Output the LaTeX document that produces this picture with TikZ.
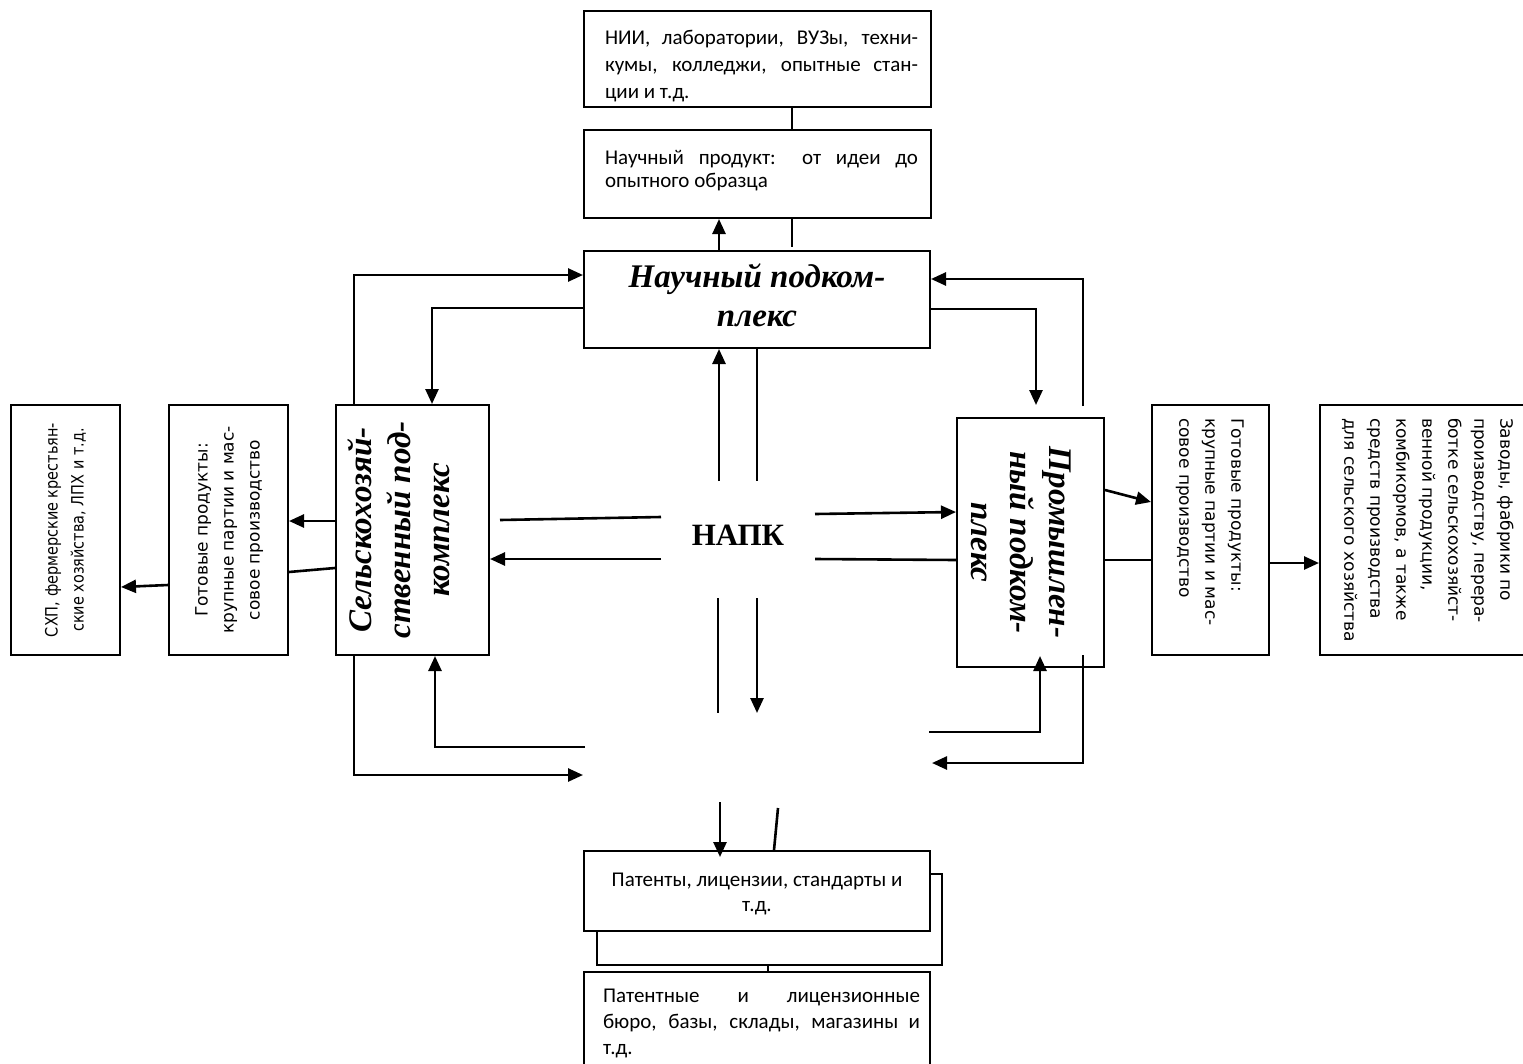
\documentclass[tikz,border=0pt]{standalone}
\usepackage{fontspec}
\usepackage{graphicx}
\setmainfont{Carlito}
\newfontfamily\dvfont{DejaVu Sans}
\newfontfamily\tnrfont{Liberation Serif}
\usetikzlibrary{arrows.meta}
\newcommand\bigbi{\tnrfont\bfseries\itshape\fontsize{33pt}{39pt}\selectfont}
\newcommand\smallsans{\dvfont\fontsize{17pt}{26pt}\selectfont}
\newcommand\topbox[6]{\parbox[c][#2][t]{#1}{\vspace*{#4}\hspace*{#3}\parbox[t]{#5}{#6}\par}}
\tikzset{
  bx/.style={draw, line width=2pt, inner sep=0pt, rectangle},
  ln/.style={line width=2.6pt},
  thinln/.style={line width=2pt},
  arr/.style={line width=2.6pt, -{Triangle[length=15pt,width=13pt]}},
}
\begin{document}
\begin{tikzpicture}[x=1pt,y=-1pt]
\useasboundingbox (0,0) rectangle (1523,1063);

% top boxes
\node[bx, minimum width=347pt, minimum height=96pt] (nii) at (757.5,59)
 {\topbox{347pt}{96pt}{21pt}{19pt}{313pt}{\fontsize{21pt}{27pt}\selectfont
  \makebox[313pt][s]{НИИ, лаборатории, ВУЗы, техни-}\\
  \makebox[313pt][s]{кумы, колледжи, опытные стан-}\\
  ции и т.д.}};
\node[bx, minimum width=347pt, minimum height=88pt] (prod) at (757.5,174)
 {\topbox{347pt}{88pt}{21pt}{20pt}{313pt}{\fontsize{21pt}{23pt}\selectfont
  \makebox[313pt][s]{Научный продукт: от идеи до}\\
  опытного образца}};
\node[bx, minimum width=346pt, minimum height=97pt] (sci) at (757,299.5)
 {\raisebox{-5pt}{\bigbi\begin{tabular}{@{}c@{}}Научный подком-\\плекс\end{tabular}}};

% left boxes
\node[bx, minimum width=153pt, minimum height=250pt] (agr) at (412.5,530)
 {\hspace*{-20pt}\rotatebox{90}{\bigbi\begin{tabular}{@{}c@{}}Сельскохозяй-\\ственный под-\\комплекс\end{tabular}}};
\node[bx, minimum width=119pt, minimum height=250pt] (gotL) at (228.5,530)
 {\rotatebox{90}{\smallsans\begin{tabular}{@{}c@{}}Готовые продукты:\\крупные партии и мас-\\совое производство\end{tabular}}};
\node[bx, minimum width=109pt, minimum height=250pt] (shp) at (65.5,530)
 {\rotatebox{90}{\scalebox{0.85}[1]{\smallsans\begin{tabular}{@{}c@{}}СХП, фермерские крестьян-\\ские хозяйства, ЛПХ и т.д.\end{tabular}}}};

% right boxes
\node[bx, minimum width=147pt, minimum height=249pt] (ind) at (1030.5,542.5)
 {\hspace*{-24pt}\rotatebox{-90}{\bigbi\begin{tabular}{@{}c@{}}Промышлен-\\ный подком-\\плекс\end{tabular}}};
\node[bx, minimum width=117pt, minimum height=250pt] (gotR) at (1210.5,530)
 {\rotatebox{-90}{\makebox[224pt][l]{\smallsans\begin{tabular}{@{}l@{}}Готовые продукты:\\крупные партии и мас-\\совое производство\end{tabular}}}};
\node[bx, minimum width=215pt, minimum height=250pt] (zav) at (1427.5,530)
 {\rotatebox{-90}{\makebox[224pt][l]{\smallsans\begin{tabular}{@{}l@{}}Заводы, фабрики по\\производству, перера-\\ботке сельскохозяйст-\\венной продукции,\\комбикормов, а также\\средств производства\\для сельского хозяйства\end{tabular}}}};

% bottom boxes
\node[bx, minimum width=346pt, minimum height=80pt] (pat) at (757,891)
 {\topbox{346pt}{80pt}{8pt}{22pt}{330pt}{\centering\fontsize{21pt}{25pt}\selectfont
  Патенты, лицензии, стандарты и\\ т.д.}};
\node[bx, minimum width=346pt, minimum height=94pt] (bur) at (757,1019)
 {\topbox{346pt}{94pt}{19pt}{17pt}{317pt}{\fontsize{21pt}{26pt}\selectfont
  \makebox[317pt][s]{Патентные и лицензионные}\\
  \makebox[317pt][s]{бюро, базы, склады, магазины и}\\
  т.д.}};

% centre
\node[font=\tnrfont\bfseries\fontsize{31pt}{36pt}\selectfont] (napk) at (738,535) {НАПК};

% free ends
\coordinate (e3) at (792,247);
\coordinate (c6) at (1083,406);
\coordinate (c7) at (1036,405);
\coordinate (c8) at (719,481);
\coordinate (c9) at (757,481);
\coordinate (c10a) at (500,520);
\coordinate (c10b) at (661,517);
\coordinate (c11) at (661,559);
\coordinate (c12) at (815,514);
\coordinate (c13) at (815,559);
\coordinate (c14a) at (718,598);
\coordinate (c14b) at (718,713);
\coordinate (c15a) at (757,598);
\coordinate (c15b) at (757,713);
\coordinate (c16) at (583,775);
\coordinate (c17) at (585,747);
\coordinate (c18) at (929,732);
\coordinate (c19) at (932,763);
\coordinate (c26) at (720,802);
\coordinate (c27) at (778,808);

% connectors top
\draw[ln] (nii.south -| 792,0) -- (prod.north -| 792,0);
\draw[arr] (sci.north -| 719,0) -- (prod.south -| 719,0);
\draw[ln] (prod.south -| e3) -- (e3);
\draw[arr] (agr.north -| 354,0) |- (sci.west |- 0,275);
\draw[arr] (sci.west |- 0,308) -| (agr.north -| 432,0);
\draw[arr] (c6) |- (sci.east |- 0,279);
\draw[arr] (sci.east |- 0,309) -| (c7);
\draw[arr] (c8) -- (sci.south -| c8);
\draw[ln] (sci.south -| c9) -- (c9);

% centre stubs
\draw[ln] (c10a) -- (c10b);
\draw[arr] (c11) -- (agr.east |- c11);
\draw[arr] (c12) -- (ind.west |- 0,512);
\draw[ln] (c13) -- (ind.west |- 0,560);
\draw[ln] (c14a) -- (c14b);
\draw[arr] (c15a) -- (c15b);

% lower loops
\draw[arr] (agr.south -| 354,0) |- (c16);
\draw[arr] (c17) -| (agr.south -| 435,0);
\draw[arr] (c18) -| ([yshift=12pt]ind.south -| 1040,0);
\draw[arr] ([yshift=13pt]ind.south -| 1083,0) |- (c19);

% side connectors
\draw[arr] (agr.west |- 0,521) -- (gotL.east |- 0,521);
\draw[ln] (agr.west |- 0,568) -- (gotL.east |- 0,572);
\draw[arr] (gotL.west |- 0,585) -- (shp.east |- 0,587);
\draw[arr] (ind.east |- 0,490) -- (gotR.west |- 0,502);
\draw[ln] (ind.east |- 0,560) -- (gotR.west |- 0,560);
\draw[arr] (gotR.east |- 0,563) -- (zav.west |- 0,563);

% bottom
\draw[arr] (c26) -- ([yshift=-7pt]pat.north -| c26);
\draw[ln] (c27) -- (pat.north -| 774,0);
\draw[thinln] (pat.east |- 0,874) -- (942,874) -- (942,965) -- (597,965) -- (pat.south -| 597,0);
\draw[line width=1.5pt] (768,965) -- (bur.north -| 768,0);
\end{tikzpicture}
\end{document}
